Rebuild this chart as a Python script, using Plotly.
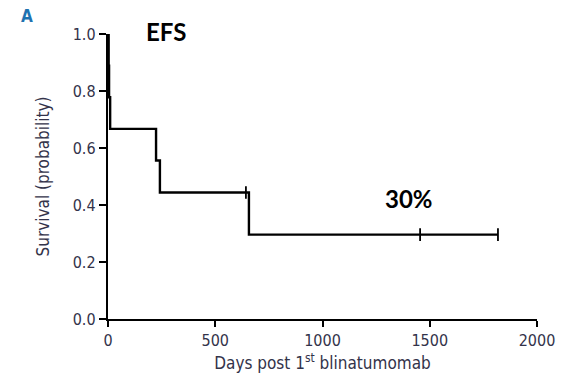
import plotly.graph_objects as go

# Kaplan-Meier event-free survival estimate
event_days = [0, 3, 5, 10, 224, 242, 657, 1818]
survival = [1.0, 0.889, 0.778, 0.667, 0.556, 0.444, 0.296, 0.296]

# Censored observations (day, survival at that time)
censor_days = [643, 1455, 1818]
censor_surv = [0.444, 0.296, 0.296]

x_ticks = [0, 500, 1000, 1500, 2000]
y_ticks = [0.0, 0.2, 0.4, 0.6, 0.8, 1.0]

axis_font = dict(family="DejaVu Sans Condensed, Liberation Sans, sans-serif",
                 size=16, color="#33334a")
title_font = dict(family="DejaVu Sans Condensed, Liberation Sans, sans-serif",
                  size=17, color="#33334a")
label_font = dict(family="Lato, Carlito, Calibri, sans-serif", size=24, color="black")

fig = go.Figure()
fig.add_trace(go.Scatter(
    x=event_days, y=survival, mode="lines",
    line=dict(shape="hv", color="black", width=2.4),
    hoverinfo="skip", showlegend=False))
fig.add_trace(go.Scatter(
    x=censor_days, y=censor_surv, mode="markers",
    marker=dict(symbol="line-ns", size=9, line=dict(color="black", width=1.8)),
    hoverinfo="skip", showlegend=False))

fig.update_layout(
    width=577, height=377,
    margin=dict(l=108, r=40, t=34, b=58),
    paper_bgcolor="white", plot_bgcolor="white",
    xaxis=dict(
        range=[0, 2000], tickvals=x_ticks, ticktext=[str(v) for v in x_ticks],
        showline=True, linecolor="black", linewidth=2.4, automargin=False,
        ticks="outside", ticklen=6, tickwidth=2, tickcolor="black",
        showgrid=False, zeroline=False, tickfont=axis_font,
        title=dict(text="Days post 1<sup>st</sup> blinatumomab", font=title_font, standoff=8),
    ),
    yaxis=dict(
        range=[0, 1.0], tickvals=y_ticks, ticktext=[f"{v:.1f}" for v in y_ticks],
        showline=True, linecolor="black", linewidth=2.4, automargin=False,
        ticks="outside", ticklen=7, tickwidth=2, tickcolor="black",
        showgrid=False, zeroline=False, tickfont=axis_font,
        title=dict(text="Survival (probability)", font=title_font, standoff=19),
    ),
    annotations=[
        dict(text="<b>A</b>", xref="paper", yref="paper", x=-0.189, y=1.063,
             xanchor="center", yanchor="middle", showarrow=False,
             font=dict(family="DejaVu Sans Condensed, Liberation Sans, sans-serif",
                       size=17, color="#1f72b0")),
        dict(text="<b>EFS</b>", xref="paper", yref="paper", x=0.135, y=1.009,
             xanchor="center", yanchor="middle", showarrow=False, font=label_font),
        dict(text="<b>30%</b>", xref="x", yref="y", x=1403, y=0.423,
             xanchor="center", yanchor="middle", showarrow=False, font=label_font),
    ],
)

fig.write_html("out.html")
